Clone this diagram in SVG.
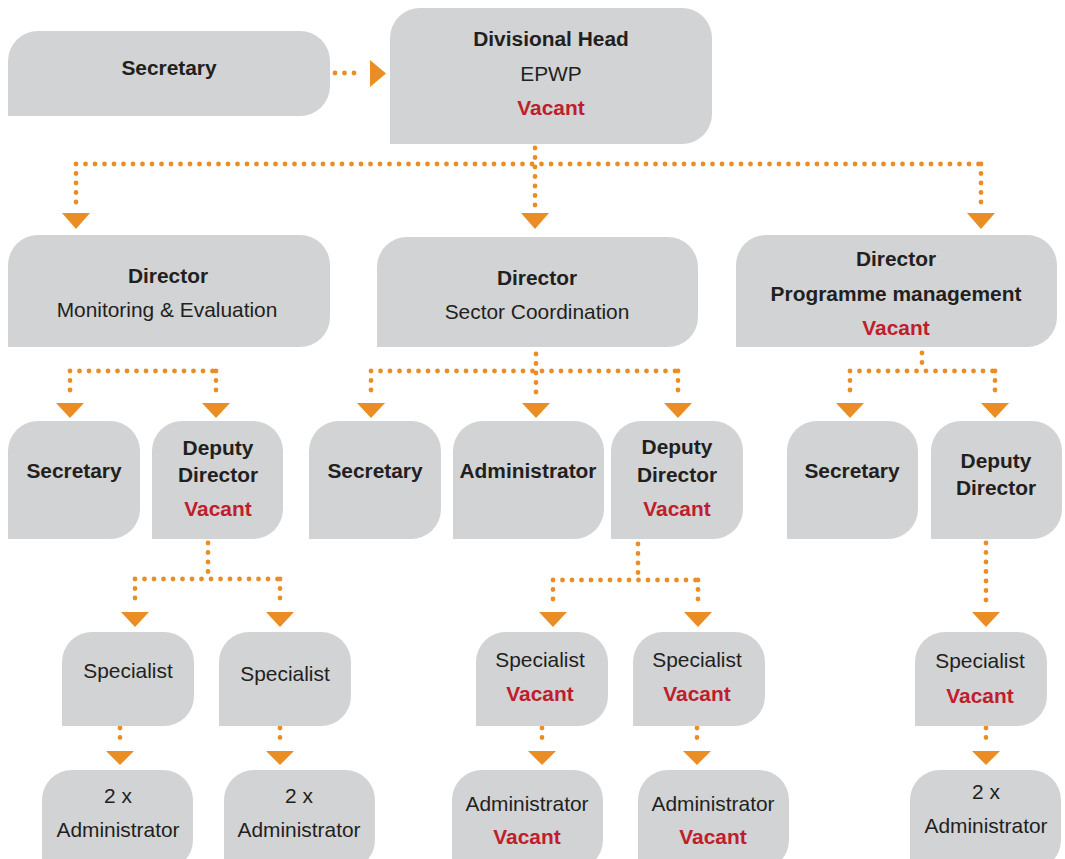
<svg xmlns="http://www.w3.org/2000/svg" width="1065" height="859" viewBox="0 0 1065 859">
<defs>
<style>
.box{fill:#d1d3d4}
text{font-family:"Liberation Sans",Arial,sans-serif;font-size:20.9px;fill:#231f20;text-anchor:middle}
.b{font-weight:bold}
.v{font-weight:bold;fill:#be1e2d}
.dot{fill:none;stroke:#e98d24;stroke-width:4.8;stroke-linecap:round;stroke-dasharray:0 9.5}
.ah{fill:#e98d24}
</style>
</defs>
<rect width="1065" height="859" fill="#ffffff"/>
<g id="connectors">
<path class="dot" d="M335,73 H362"/>
<polygon class="ah" points="370,60 370,87 386,73.5"/>
<path class="dot" d="M535,148 V207 M76,164 H981 M76,164 V207 M981,164 V207"/>
<polygon class="ah" points="62,213 90,213 76,229"/>
<polygon class="ah" points="521,213 549,213 535,229"/>
<polygon class="ah" points="967,213 995,213 981,229"/>
<path class="dot" d="M70,371 H216 M70,371 V398 M216,371 V398"/>
<polygon class="ah" points="56,403 84,403 70,418"/>
<polygon class="ah" points="202,403 230,403 216,418"/>
<path class="dot" d="M536,354 V398 M371,371 H678 M371,371 V398 M678,371 V398"/>
<polygon class="ah" points="357,403 385,403 371,418"/>
<polygon class="ah" points="522,403 550,403 536,418"/>
<polygon class="ah" points="664,403 692,403 678,418"/>
<path class="dot" d="M922,353 V371 M850,371 H995 M850,371 V398 M995,371 V398"/>
<polygon class="ah" points="836,403 864,403 850,418"/>
<polygon class="ah" points="981,403 1009,403 995,418"/>
<path class="dot" d="M208,543 V579 M135,579 H280 M135,579 V607 M280,579 V607"/>
<polygon class="ah" points="121,612 149,612 135,627"/>
<polygon class="ah" points="266,612 294,612 280,627"/>
<path class="dot" d="M638,544 V580 M553,580 H698 M553,580 V607 M698,580 V607"/>
<polygon class="ah" points="539,612 567,612 553,627"/>
<polygon class="ah" points="684,612 712,612 698,627"/>
<path class="dot" d="M986,543 V607"/>
<polygon class="ah" points="972,612 1000,612 986,627"/>
<path class="dot" d="M120,728 V746 M280,728 V746 M542,728 V746 M697,728 V746 M986,728 V746"/>
<polygon class="ah" points="106,751 134,751 120,765"/>
<polygon class="ah" points="266,751 294,751 280,765"/>
<polygon class="ah" points="528,751 556,751 542,765"/>
<polygon class="ah" points="683,751 711,751 697,765"/>
<polygon class="ah" points="972,751 1000,751 986,765"/>
</g>
<g id="secretary-top"><path class="box" d="M8,116 V61 A30,30 0 0 1 38,31 H300 A30,30 0 0 1 330,61 V86 A30,30 0 0 1 300,116 Z"/><text class="b" x="169" y="75">Secretary</text></g>
<g id="divisional-head"><path class="box" d="M390,144 V38 A30,30 0 0 1 420,8 H682 A30,30 0 0 1 712,38 V114 A30,30 0 0 1 682,144 Z"/><text class="b" x="551" y="46">Divisional Head</text><text x="551" y="81">EPWP</text><text class="v" x="551" y="115">Vacant</text></g>
<g id="director-me"><path class="box" d="M8,347 V265 A30,30 0 0 1 38,235 H300 A30,30 0 0 1 330,265 V317 A30,30 0 0 1 300,347 Z"/><text class="b" x="168" y="283">Director</text><text x="167" y="317">Monitoring &amp; Evaluation</text></g>
<g id="director-sc"><path class="box" d="M377,347 V267 A30,30 0 0 1 407,237 H668 A30,30 0 0 1 698,267 V317 A30,30 0 0 1 668,347 Z"/><text class="b" x="537" y="285">Director</text><text x="537" y="319">Sector Coordination</text></g>
<g id="director-pm"><path class="box" d="M736,347 V265 A30,30 0 0 1 766,235 H1027 A30,30 0 0 1 1057,265 V317 A30,30 0 0 1 1027,347 Z"/><text class="b" x="896" y="266">Director</text><text class="b" x="896" y="301">Programme management</text><text class="v" x="896" y="335">Vacant</text></g>
<g id="secretary-me"><path class="box" d="M8,539 V451 A30,30 0 0 1 38,421 H110 A30,30 0 0 1 140,451 V509 A30,30 0 0 1 110,539 Z"/><text class="b" x="74" y="478">Secretary</text></g>
<g id="deputy-me"><path class="box" d="M152,539 V451 A30,30 0 0 1 182,421 H253 A30,30 0 0 1 283,451 V509 A30,30 0 0 1 253,539 Z"/><text class="b" x="218" y="455">Deputy</text><text class="b" x="218" y="482">Director</text><text class="v" x="218" y="516">Vacant</text></g>
<g id="secretary-sc"><path class="box" d="M309,539 V451 A30,30 0 0 1 339,421 H411 A30,30 0 0 1 441,451 V509 A30,30 0 0 1 411,539 Z"/><text class="b" x="375" y="478">Secretary</text></g>
<g id="administrator-sc"><path class="box" d="M453,539 V451 A30,30 0 0 1 483,421 H574 A30,30 0 0 1 604,451 V509 A30,30 0 0 1 574,539 Z"/><text class="b" x="528" y="478">Administrator</text></g>
<g id="deputy-sc"><path class="box" d="M611,539 V451 A30,30 0 0 1 641,421 H713 A30,30 0 0 1 743,451 V509 A30,30 0 0 1 713,539 Z"/><text class="b" x="677" y="454">Deputy</text><text class="b" x="677" y="482">Director</text><text class="v" x="677" y="516">Vacant</text></g>
<g id="secretary-pm"><path class="box" d="M787,539 V451 A30,30 0 0 1 817,421 H888 A30,30 0 0 1 918,451 V509 A30,30 0 0 1 888,539 Z"/><text class="b" x="852" y="478">Secretary</text></g>
<g id="deputy-pm"><path class="box" d="M931,539 V451 A30,30 0 0 1 961,421 H1032 A30,30 0 0 1 1062,451 V509 A30,30 0 0 1 1032,539 Z"/><text class="b" x="996" y="468">Deputy</text><text class="b" x="996" y="495">Director</text></g>
<g id="specialist-1"><path class="box" d="M62,726 V662 A30,30 0 0 1 92,632 H164 A30,30 0 0 1 194,662 V696 A30,30 0 0 1 164,726 Z"/><text x="128" y="678">Specialist</text></g>
<g id="specialist-2"><path class="box" d="M219,726 V662 A30,30 0 0 1 249,632 H321 A30,30 0 0 1 351,662 V696 A30,30 0 0 1 321,726 Z"/><text x="285" y="681">Specialist</text></g>
<g id="specialist-3"><path class="box" d="M476,726 V662 A30,30 0 0 1 506,632 H578 A30,30 0 0 1 608,662 V696 A30,30 0 0 1 578,726 Z"/><text x="540" y="667">Specialist</text><text class="v" x="540" y="701">Vacant</text></g>
<g id="specialist-4"><path class="box" d="M633,726 V662 A30,30 0 0 1 663,632 H735 A30,30 0 0 1 765,662 V696 A30,30 0 0 1 735,726 Z"/><text x="697" y="667">Specialist</text><text class="v" x="697" y="701">Vacant</text></g>
<g id="specialist-5"><path class="box" d="M915,726 V662 A30,30 0 0 1 945,632 H1017 A30,30 0 0 1 1047,662 V696 A30,30 0 0 1 1017,726 Z"/><text x="980" y="668">Specialist</text><text class="v" x="980" y="703">Vacant</text></g>
<g id="admin-1"><path class="box" d="M42,870 V800 A30,30 0 0 1 72,770 H163 A30,30 0 0 1 193,800 V840 A30,30 0 0 1 163,870 Z"/><text x="118" y="803">2 x</text><text x="118" y="837">Administrator</text></g>
<g id="admin-2"><path class="box" d="M224,870 V800 A30,30 0 0 1 254,770 H345 A30,30 0 0 1 375,800 V840 A30,30 0 0 1 345,870 Z"/><text x="299" y="803">2 x</text><text x="299" y="837">Administrator</text></g>
<g id="admin-3"><path class="box" d="M452,870 V800 A30,30 0 0 1 482,770 H573 A30,30 0 0 1 603,800 V840 A30,30 0 0 1 573,870 Z"/><text x="527" y="811">Administrator</text><text class="v" x="527" y="844">Vacant</text></g>
<g id="admin-4"><path class="box" d="M638,870 V800 A30,30 0 0 1 668,770 H759 A30,30 0 0 1 789,800 V840 A30,30 0 0 1 759,870 Z"/><text x="713" y="811">Administrator</text><text class="v" x="713" y="844">Vacant</text></g>
<g id="admin-5"><path class="box" d="M910,870 V800 A30,30 0 0 1 940,770 H1031 A30,30 0 0 1 1061,800 V840 A30,30 0 0 1 1031,870 Z"/><text x="986" y="799">2 x</text><text x="986" y="833">Administrator</text></g>
</svg>
